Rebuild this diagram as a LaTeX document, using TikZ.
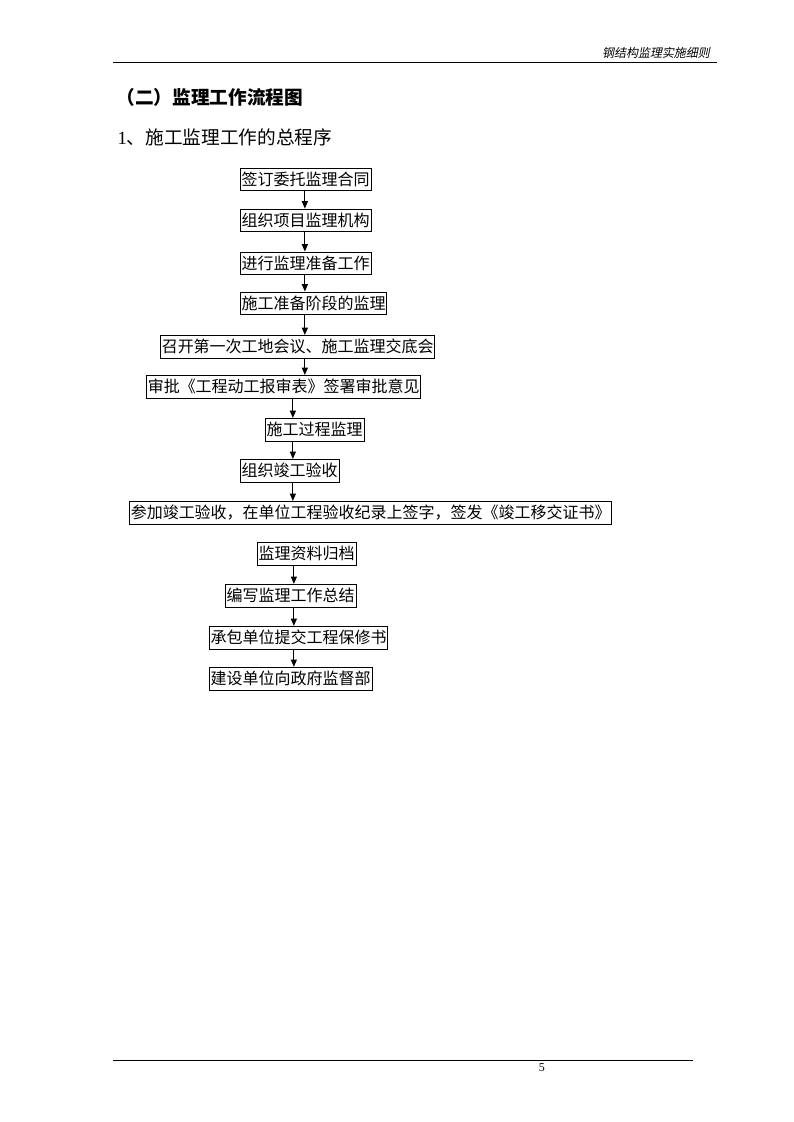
\documentclass[tikz,border=0pt]{standalone}
\usepackage{fontspec}
\setmainfont{Liberation Serif}
\newfontfamily\cjk{Noto Sans CJK SC}
\newfontfamily\cjkslant[FakeSlant=0.2]{Noto Sans CJK SC}
\usetikzlibrary{arrows.meta,positioning}

\tikzset{
  stepbox/.style={draw, line width=0.75pt, anchor=west, inner xsep=1pt, inner ysep=0pt,
    minimum height=17pt, font=\cjk\fontsize{12}{12}\selectfont},
  flowarrow/.style={-{Triangle[length=5.5pt,width=4.5pt]}, line width=0.75pt}
}

\begin{document}
\begin{tikzpicture}[x=0.75pt,y=-0.75pt]
        \useasboundingbox (0,0) rectangle (793.7,1122.5);

        % Page header and footer
        \node[anchor=east, font=\cjkslant\fontsize{9}{9}\selectfont] (header) at (715,53) {钢结构监理实施细则};
        \draw[line width=0.75pt] (113,63) -- (717,63);
        \draw[line width=0.75pt] (113,1061) -- (693,1061);
        \node[font=\fontsize{9}{9}\selectfont] (pagenum) at (542,1068) {5};

        % Headings
        \node[anchor=west, font=\cjk\bfseries\fontsize{14}{14}\selectfont] (title) at (112,97) {（二）监理工作流程图};
        \node[anchor=west, font=\fontsize{14}{14}\selectfont] (subtitle) at (113,137) {1{\cjk 、施工监理工作的总程序}};

        % Arrow columns
        \coordinate (colA) at (305,0);
        \coordinate (colB) at (293,0);
        \coordinate (colC) at (294,0);

        % Flow boxes
        \node[stepbox] (s1) at (240,179.5) {签订委托监理合同};
        \node[stepbox] (s2) at (240,220.5) {组织项目监理机构};
        \node[stepbox] (s3) at (240,263.5) {进行监理准备工作};
        \node[stepbox] (s4) at (240,303.5) {施工准备阶段的监理};
        \node[stepbox] (s5) at (160,347) {召开第一次工地会议、施工监理交底会};
        \node[stepbox] (s6) at (146,387) {审批《工程动工报审表》签署审批意见};
        \node[stepbox] (s7) at (265,430) {施工过程监理};
        \node[stepbox] (s8) at (240,471) {组织竣工验收};
        \node[stepbox, minimum width=359pt] (s9) at (129,513) {参加竣工验收，在单位工程验收纪录上签字，签发《竣工移交证书》};
        \node[stepbox] (s10) at (257,554) {监理资料归档};
        \node[stepbox] (s11) at (225,596) {编写监理工作总结};
        \node[stepbox] (s12) at (209,638) {承包单位提交工程保修书};
        \node[stepbox] (s13) at (209,679) {建设单位向政府监督部};

        % Arrows
        \draw[flowarrow] (s1.south -| colA) -- (s2.north -| colA);
        \draw[flowarrow] (s2.south -| colA) -- (s3.north -| colA);
        \draw[flowarrow] (s3.south -| colA) -- (s4.north -| colA);
        \draw[flowarrow] (s4.south -| colA) -- (s5.north -| colA);
        \draw[flowarrow] (s5.south -| colA) -- (s6.north -| colA);
        \draw[flowarrow] (s6.south -| colB) -- (s7.north -| colB);
        \draw[flowarrow] (s7.south -| colB) -- (s8.north -| colB);
        \draw[flowarrow] (s8.south -| colB) -- (s9.north -| colB);
        \draw[flowarrow] (s10.south -| colC) -- (s11.north -| colC);
        \draw[flowarrow] (s11.south -| colC) -- (s12.north -| colC);
        \draw[flowarrow] (s12.south -| colC) -- (s13.north -| colC);
\end{tikzpicture}
\end{document}
